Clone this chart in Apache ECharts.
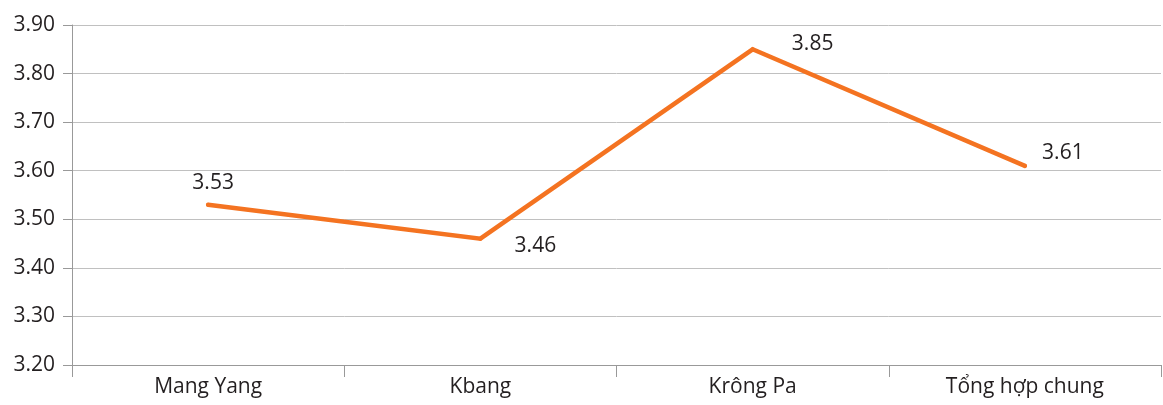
<!DOCTYPE html>
<html><head><meta charset="utf-8">
<script src="https://cdn.jsdelivr.net/npm/echarts@6/dist/echarts.min.js"></script>
<style>html,body{margin:0;padding:0;background:#fff}#c{width:1163px;height:405px}</style>
</head><body><div id="c"></div>
<script>
const categories = ['Mang Yang', 'Kbang', 'Krông Pa', 'Tổng hợp chung'];
const values = [3.53, 3.46, 3.85, 3.61];
const yTicks = [3.20, 3.30, 3.40, 3.50, 3.60, 3.70, 3.80, 3.90];

const labelPos = [[5, -4], [55, 25], [60, 12], [38, 5]];
const font = '"Open Sans", sans-serif';
const chart = echarts.init(document.getElementById('c'));
chart.setOption({
  animation: false,
  grid: {left: 72, right: 2, top: 25, bottom: 40},
  xAxis: {
    type: 'category', data: categories, boundaryGap: true,
    axisLine: {lineStyle: {color: '#999', width: 1}},
    axisTick: {show: true, length: 12, lineStyle: {color: '#999'}},
    axisLabel: {color: '#231f20', fontSize: 21, fontFamily: font, margin: 12}
  },
  yAxis: {
    type: 'value', min: yTicks[0], max: yTicks[yTicks.length - 1], interval: 0.1,
    axisLine: {show: true, lineStyle: {color: '#999', width: 1}},
    axisTick: {show: true, length: 9, lineStyle: {color: '#999'}},
    axisLabel: {color: '#231f20', fontSize: 21, fontFamily: font, margin: 17,
      formatter: v => v.toFixed(2)},
    splitLine: {lineStyle: {color: '#c0c0c0', width: 1}}
  },
  series: [{
    type: 'line',
    data: values.map((v, i) => ({value: v, label: {show: true, offset: labelPos[i]}})),
    symbol: 'circle', symbolSize: 4, showSymbol: true,
    itemStyle: {color: '#f47321'},
    lineStyle: {color: '#f47321', width: 4.5, cap: 'round', join: 'miter'},
    label: {show: true, position: 'top', formatter: p => Number(p.value).toFixed(2),
      color: '#231f20', fontSize: 21, fontFamily: font}
  }]
});
</script></body></html>
